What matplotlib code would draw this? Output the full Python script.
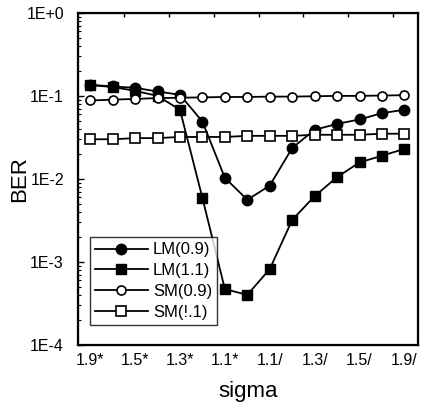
import matplotlib
matplotlib.use("Agg")
import matplotlib.pyplot as plt
import numpy as np

plt.rcParams['font.family'] = ['Liberation Sans', 'DejaVu Sans']

# 15 sigma settings (categories); every other one labelled
x_idx = list(range(15))
tick_idx = [0, 2, 4, 6, 8, 10, 12, 14]
tick_labels = ["1.9*", "1.5*", "1.3*", "1.1*", "1.1/", "1.3/", "1.5/", "1.9/"]

lm09 = [0.136, 0.13, 0.125, 0.113, 0.103, 0.049, 0.0103, 0.0056, 0.0083,
        0.0236, 0.039, 0.046, 0.052, 0.062, 0.068]
lm11 = [0.135, 0.128, 0.115, 0.1, 0.068, 0.0059, 0.00047, 0.0004, 0.00082,
        0.0032, 0.0062, 0.0105, 0.0158, 0.019, 0.023]
sm09 = [0.088, 0.09, 0.092, 0.094, 0.095, 0.096, 0.097, 0.097, 0.098,
        0.098, 0.099, 0.1, 0.1, 0.101, 0.102]
sm11 = [0.030, 0.030, 0.031, 0.031, 0.032, 0.032, 0.032, 0.033, 0.033,
        0.033, 0.034, 0.034, 0.034, 0.035, 0.035]

series_names = ["LM(0.9)", "LM(1.1)", "SM(0.9)", "SM(!.1)"]

fig = plt.figure(figsize=(4.23, 4.16), dpi=100)
ax = fig.add_axes([0.184, 0.171, 0.804, 0.798])

lw = 1.3
ax.plot(x_idx, lm09, '-o', color='black', lw=lw, ms=7.5, mfc='black', mec='black', label=series_names[0])
ax.plot(x_idx, lm11, '-s', color='black', lw=lw, ms=7.5, mfc='black', mec='black', label=series_names[1])
ax.plot(x_idx, sm09, '-o', color='black', lw=lw, ms=6.5, mfc='white', mec='black', mew=1.2, label=series_names[2])
ax.plot(x_idx, sm11, '-s', color='black', lw=lw, ms=6.5, mfc='white', mec='black', mew=1.2, label=series_names[3])

ax.set_yscale('log')
ax.set_ylim(1e-4, 1)
ax.set_xlim(-0.55, 14.6)
ax.set_yticks([1e0, 1e-1, 1e-2, 1e-3, 1e-4])
ax.set_yticklabels(["1E+0", "1E-1", "1E-2", "1E-3", "1E-4"], fontsize=11.5)
ax.set_xticks(tick_idx)
ax.set_xticklabels(tick_labels, fontsize=11.5)
ax.tick_params(axis='x', length=0, pad=6)
ax.tick_params(axis='y', which='major', direction='in', length=4, width=1, pad=10, right=False)
ax.tick_params(axis='y', which='minor', direction='in', length=2.5, width=0.8, right=False)

for s in ax.spines.values():
    s.set_linewidth(1.6)

top = ax.twiny()
top.set_xlim(ax.get_xlim())
top.set_xticks([i + 1.5 for i in tick_idx[:-1]])
top.set_xticklabels([])
top.tick_params(axis='x', direction='in', length=3, width=1)

ax.set_xlabel("sigma", fontsize=16, labelpad=9)
ax.set_ylabel("BER", fontsize=16, labelpad=-3)

leg = ax.legend(loc='lower left', bbox_to_anchor=(0.035, 0.06), fontsize=12,
                frameon=True, fancybox=False, edgecolor='black', handlelength=3.2,
                borderpad=0.3, labelspacing=0.35, handletextpad=0.3, borderaxespad=0)
leg.get_frame().set_linewidth(1.0)

fig.savefig("out.png", dpi=100)
